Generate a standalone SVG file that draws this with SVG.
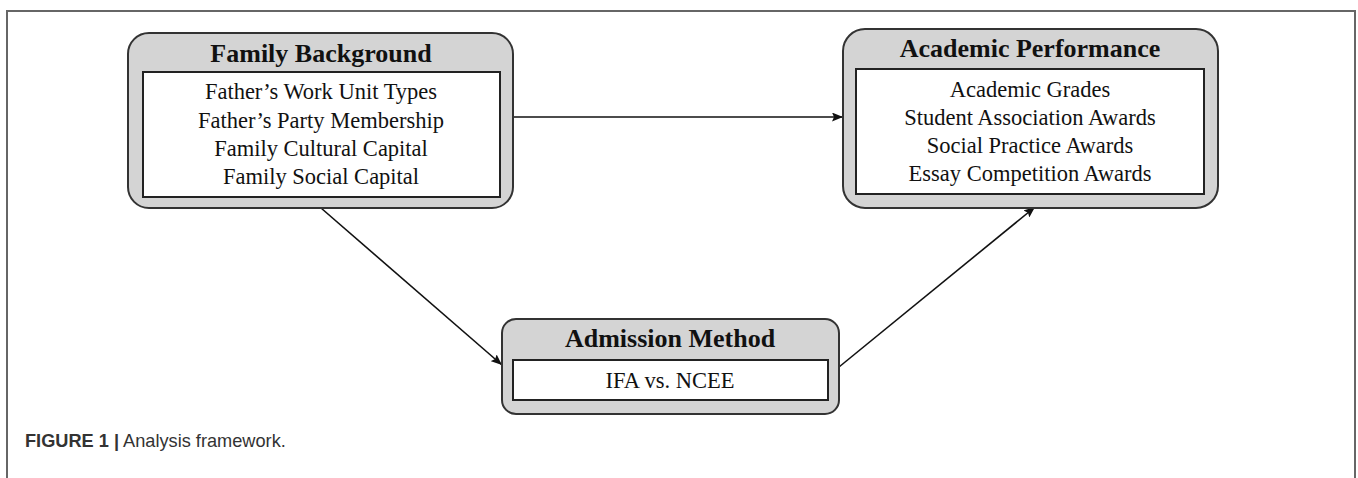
<svg xmlns="http://www.w3.org/2000/svg" width="1358" height="478" viewBox="0 0 1358 478">
<style>
.outer{fill:#d4d4d4;stroke:#333;stroke-width:2}
.inner{fill:#fff;stroke:#222;stroke-width:2}
.title{font-family:"Liberation Serif","Times New Roman",serif;font-weight:bold;font-size:26px;fill:#111;text-anchor:middle}
.body{font-family:"Liberation Serif","Times New Roman",serif;font-size:22.5px;fill:#111;text-anchor:middle}
.conn{stroke:#111;stroke-width:1.6;fill:none;marker-end:url(#ah)}
.cap{font-family:"Liberation Sans",Arial,sans-serif;font-size:18.2px;fill:#333}
</style>
<defs>
<marker id="ah" viewBox="0 0 11 9" refX="11" refY="4.5" markerWidth="11" markerHeight="9" markerUnits="userSpaceOnUse" orient="auto">
<path d="M0,0 L11,4.5 L0,9 L2,4.5 Z" fill="#111"/>
</marker>
</defs>
<rect width="1358" height="478" fill="#fff"/>
<path d="M7,478 V11 H1355 V478" fill="none" stroke="#666" stroke-width="2"/>
<g id="connectors">
<line class="conn" x1="513" y1="117" x2="843" y2="117"/>
<line class="conn" x1="321" y1="208" x2="502" y2="365"/>
<line class="conn" x1="839" y1="367" x2="1035" y2="207"/>
</g>
<g id="family-background">
<rect class="outer" x="128" y="33" width="385" height="175" rx="21"/>
<rect class="inner" x="143" y="72" width="357" height="125"/>
<text class="title" x="321" y="62">Family Background</text>
<text class="body" x="321" y="99">Father’s Work Unit Types</text>
<text class="body" x="321" y="128">Father’s Party Membership</text>
<text class="body" x="321" y="156">Family Cultural Capital</text>
<text class="body" x="321" y="184">Family Social Capital</text>
</g>
<g id="academic-performance">
<rect class="outer" x="843" y="29" width="375" height="179" rx="22"/>
<rect class="inner" x="856" y="69" width="348" height="125"/>
<text class="title" x="1030" y="57">Academic Performance</text>
<text class="body" x="1030" y="97">Academic Grades</text>
<text class="body" x="1030" y="125">Student Association Awards</text>
<text class="body" x="1030" y="153">Social Practice Awards</text>
<text class="body" x="1030" y="181">Essay Competition Awards</text>
</g>
<g id="admission-method">
<rect class="outer" x="502" y="319" width="337" height="95" rx="14"/>
<rect class="inner" x="513" y="360" width="315" height="40"/>
<text class="title" x="670" y="347">Admission Method</text>
<text class="body" x="670" y="388">IFA vs. NCEE</text>
</g>
<text class="cap" x="25" y="447"><tspan font-weight="bold">FIGURE 1 |</tspan> Analysis framework.</text>
</svg>
